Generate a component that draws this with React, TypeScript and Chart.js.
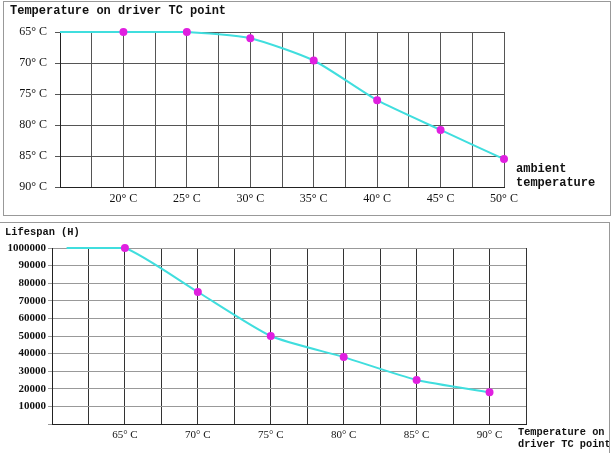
import React, { useEffect, useRef } from "react";
import { Chart, registerables } from "chart.js";

Chart.register(...registerables);

// ---- Top chart data ----
const ambientTemps = [15, 20, 25, 30, 35, 40, 45, 50];
const driverTemps = [65, 65, 65, 66, 69.6, 76, 80.8, 85.5];
const ambientTickValues = [20, 25, 30, 35, 40, 45, 50];
const ambientTickLabels = ["20° C", "25° C", "30° C", "35° C", "40° C", "45° C", "50° C"];
const driverTickValues = [65, 70, 75, 80, 85, 90];
const driverTickLabels = ["65° C", "70° C", "75° C", "80° C", "85° C", "90° C"];

// ---- Bottom chart data ----
const tcTemps = [61, 65, 70, 75, 80, 85, 90];
const lifespanHours = [100000, 100000, 75000, 50000, 38000, 25000, 18000];
const tcTickValues = [65, 70, 75, 80, 85, 90];
const tcTickLabels = ["65° C", "70° C", "75° C", "80° C", "85° C", "90° C"];
const lifeTickValues = [10000, 20000, 30000, 40000, 50000, 60000, 70000, 80000, 90000, 100000];
const lifeTickLabels = ["10000", "20000", "30000", "40000", "50000", "60000", "70000", "80000", "90000", "1000000"];

const LINE = "#40dede";
const POINT = "#e020e0";
const MONO = "'Liberation Mono', 'DejaVu Sans Mono', monospace";
const SERIF = "'Liberation Serif', 'DejaVu Serif', serif";

const labelFor = (vals: number[], labels: string[]) => (v: any) => {
  const i = vals.findIndex((x) => Math.abs(x - Number(v)) < 1e-6);
  return i >= 0 ? labels[i] : "";
};

const textPlugin = {
  id: "panelTexts",
  afterDraw(chart: any, _args: any, opts: any) {
    const ctx = chart.ctx;
    ctx.save();
    for (const t of opts.items || []) {
      ctx.font = t.font;
      ctx.fillStyle = t.color || "#111";
      ctx.textAlign = "left";
      ctx.textBaseline = "middle";
      ctx.fillText(t.text, t.x, t.y);
    }
    ctx.restore();
  },
};

export default function App() {
  const topRef = useRef<HTMLCanvasElement>(null);
  const botRef = useRef<HTMLCanvasElement>(null);

  useEffect(() => {
    const top = new Chart(topRef.current!, {
      type: "line",
      data: {
        datasets: [
          {
            data: ambientTemps.map((x, i) => ({ x, y: driverTemps[i] })),
            borderColor: LINE,
            borderWidth: 2,
            backgroundColor: POINT,
            pointBackgroundColor: POINT,
            pointBorderColor: POINT,
            pointRadius: ambientTemps.map((_, i) => (i === 0 ? 0 : 3)),
            tension: 0.2,
            clip: false,
            fill: false,
          },
        ],
      },
      options: {
        animation: false,
        responsive: false,
        events: [],
        layout: { padding: { left: 18, right: 110, top: 32, bottom: 0 } },
        plugins: {
          legend: { display: false },
          tooltip: { enabled: false },
          panelTexts: {
            items: [
              { text: "Temperature on driver TC point", x: 10, y: 11, font: `bold 12px ${MONO}` },
              { text: "ambient", x: 516, y: 169, font: `bold 12px ${MONO}` },
              { text: "temperature", x: 516, y: 183, font: `bold 12px ${MONO}` },
            ],
          },
        } as any,
        scales: {
          x: {
            type: "linear",
            min: 15,
            max: 50,
            afterFit: (s: any) => {
              s.height = 32;
            },
            ticks: {
              stepSize: 2.5,
              autoSkip: false,
              maxRotation: 0,
              padding: 5,
              color: "#111",
              font: { family: SERIF, size: 12 },
              callback: labelFor(ambientTickValues, ambientTickLabels),
            },
            grid: { color: "#555", drawTicks: false },
            border: { color: "#222" },
          },
          y: {
            type: "linear",
            min: 65,
            max: 90,
            reverse: true,
            afterFit: (s: any) => {
              s.width = 42;
            },
            ticks: {
              stepSize: 5,
              padding: 8,
              color: "#111",
              font: { family: SERIF, size: 12 },
              callback: labelFor(driverTickValues, driverTickLabels),
            },
            grid: { color: "#555", tickLength: 5 },
            border: { color: "#222" },
          },
        },
      },
      plugins: [textPlugin],
    } as any);

    const bot = new Chart(botRef.current!, {
      type: "line",
      data: {
        datasets: [
          {
            data: tcTemps.map((x, i) => ({ x, y: lifespanHours[i] })),
            borderColor: LINE,
            borderWidth: 2,
            backgroundColor: POINT,
            pointBackgroundColor: POINT,
            pointBorderColor: POINT,
            pointRadius: tcTemps.map((_, i) => (i === 0 ? 0 : 3)),
            tension: 0.2,
            clip: false,
            fill: false,
          },
        ],
      },
      options: {
        animation: false,
        responsive: false,
        events: [],
        layout: { padding: { left: 5, right: 88, top: 29, bottom: 0 } },
        plugins: {
          legend: { display: false },
          tooltip: { enabled: false },
          panelTexts: {
            items: [
              { text: "Lifespan (H)", x: 5, y: 13, font: `bold 10.4px ${MONO}` },
              { text: "Temperature on", x: 518, y: 213, font: `bold 10.3px ${MONO}` },
              { text: "driver TC point", x: 518, y: 225.5, font: `bold 10.3px ${MONO}` },
            ],
          },
        } as any,
        scales: {
          x: {
            type: "linear",
            min: 60,
            max: 92.5,
            afterFit: (s: any) => {
              s.height = 29;
            },
            ticks: {
              stepSize: 2.5,
              autoSkip: false,
              maxRotation: 0,
              padding: 5,
              color: "#111",
              font: { family: SERIF, size: 11 },
              callback: labelFor(tcTickValues, tcTickLabels),
            },
            grid: { color: "#333", drawTicks: false },
            border: { color: "#222" },
          },
          y: {
            type: "linear",
            min: 0,
            max: 100000,
            afterFit: (s: any) => {
              s.width = 47;
            },
            ticks: {
              stepSize: 10000,
              padding: 2,
              color: "#111",
              font: { family: SERIF, size: 11, weight: "bold" },
              callback: labelFor(lifeTickValues, lifeTickLabels),
            },
            grid: { color: "#999", tickLength: 4 },
            border: { color: "#222" },
          },
        },
      },
      plugins: [textPlugin],
    } as any);

    return () => {
      top.destroy();
      bot.destroy();
    };
  }, []);

  return (
    <div style={{ position: "absolute", left: 0, top: 0, width: 614, height: 453, background: "#fff", overflow: "hidden" }}>
      <canvas ref={topRef} width={614} height={219} style={{ position: "absolute", left: 0, top: 0, width: 614, height: 219 }} />
      <canvas ref={botRef} width={614} height={234} style={{ position: "absolute", left: 0, top: 219, width: 614, height: 234 }} />
      <div style={{ position: "absolute", left: 3, top: 1, width: 608, height: 215, boxSizing: "border-box", border: "1px solid #999", pointerEvents: "none" }} />
      <div style={{ position: "absolute", left: -1, top: 222, width: 611, height: 240, boxSizing: "border-box", border: "1px solid #999", pointerEvents: "none" }} />
    </div>
  );
}
